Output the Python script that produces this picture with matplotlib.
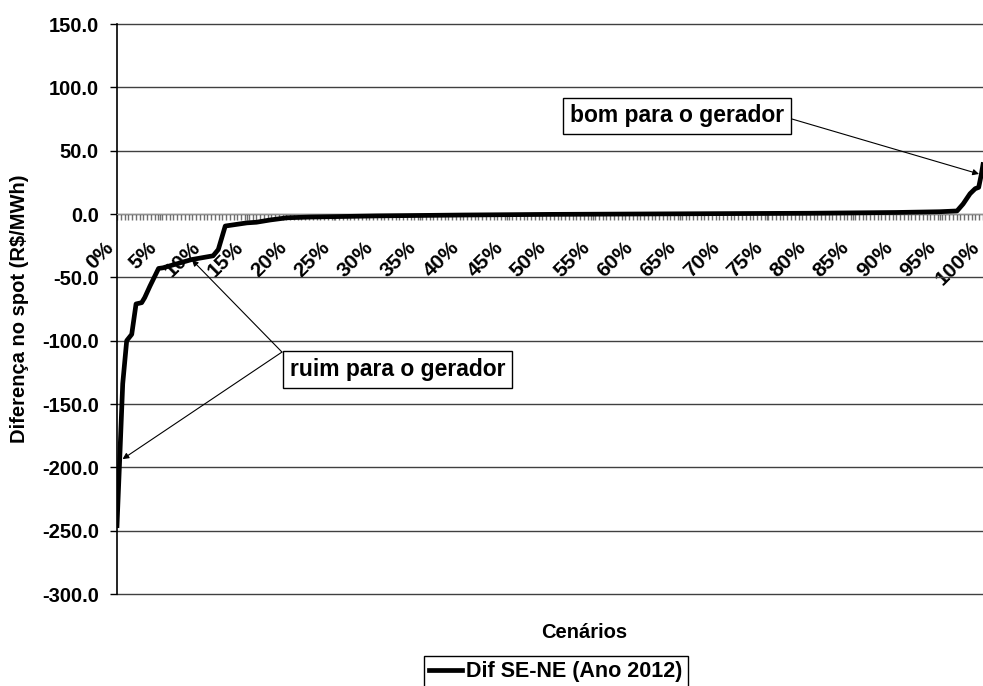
import matplotlib
matplotlib.use("Agg")
import matplotlib.pyplot as plt
from matplotlib.ticker import MultipleLocator, FormatStrFormatter

plt.rcParams['font.family'] = ['Liberation Sans', 'DejaVu Sans']
plt.rcParams['font.weight'] = 'bold'
plt.rcParams['axes.labelweight'] = 'bold'

# cenários ordenados (% do total) e diferença SE-NE no spot (R$/MWh)
cenarios_pct = [0, 0.35, 0.66, 1.12, 1.7, 2.2, 2.85, 3.2, 3.8, 4.8, 5.3, 8.6,
                11.1, 11.7, 12.5, 15.0, 16.1, 17.7, 19.6, 22.3, 30, 40, 50, 60,
                70, 80, 90, 95, 97.0, 97.7, 98.5, 99.1, 99.5, 99.8, 100]
dif_se_ne = [-246, -187, -134, -100, -95, -71, -70, -66, -57, -43, -42.5, -36,
             -33, -28, -9.5, -7, -6.5, -4.7, -3, -2.4, -1.5, -0.8, -0.3, 0,
             0.3, 0.6, 1.2, 1.8, 2.4, 7.9, 16, 20, 21, 31, 39]

rotulos_x = [f"{p}%" for p in range(0, 101, 5)]
n_cenarios = 230

fig = plt.figure(figsize=(9.83, 6.86), dpi=100)
ax = fig.add_axes([117 / 983, 1 - 594 / 686, 866 / 983, 570 / 686])

ax.plot(cenarios_pct, dif_se_ne, color='black', lw=3.4,
        solid_joinstyle='round', label='Dif SE-NE (Ano 2012)', zorder=4)

ax.set_xlim(0, 100)
ax.set_ylim(-300, 150)
ax.yaxis.set_major_locator(MultipleLocator(50))
ax.yaxis.set_major_formatter(FormatStrFormatter('%.1f'))
ax.yaxis.grid(True, color='#404040', lw=1)
ax.set_axisbelow(True)
for linha in ax.get_ygridlines():
    linha.set_clip_on(False)

ax.spines['top'].set_visible(False)
ax.spines['right'].set_visible(False)
ax.spines['left'].set_linewidth(1.2)
ax.spines['bottom'].set_position(('data', 0))
ax.spines['bottom'].set_color('#909090')

ax.set_xticks(range(0, 101, 5), rotulos_x)
ax.xaxis.set_minor_locator(MultipleLocator(100 / n_cenarios))
ax.tick_params(axis='x', which='both', direction='out', length=4,
               width=1, color='#707070', pad=13, labelsize=15)
plt.setp(ax.get_xticklabels(), rotation=45, ha='right')
ax.tick_params(axis='y', length=5, width=1, pad=8, labelsize=14.5)

ax.set_ylabel('Diferença no spot (R$/MWh)', fontsize=14.5, labelpad=9)
ax.set_xlabel('Cenários', fontsize=14.5)
ax.xaxis.set_label_coords(0.539, -0.05)

caixa = dict(boxstyle='square,pad=0.3', fc='white', ec='black', lw=1)
seta = dict(arrowstyle='-|>', color='black', lw=0.8, mutation_scale=9,
            shrinkA=0, shrinkB=0)

ax.text(64.7, 77.4, 'bom para o gerador', fontsize=16.5, ha='center',
        va='center', bbox=caixa, zorder=5)
ax.annotate('', xy=(99.54, 31.6), xytext=(77.94, 75.0), arrowprops=seta, zorder=5)

ax.text(32.4, -122.8, 'ruim para o gerador', fontsize=16.5, ha='center',
        va='center', bbox=caixa, zorder=5)
ax.annotate('', xy=(8.66, -36.3), xytext=(19.05, -109.0), arrowprops=seta, zorder=5)
ax.annotate('', xy=(0.64, -193.5), xytext=(19.05, -109.0), arrowprops=seta, zorder=5)

leg = fig.legend(loc='upper left', bbox_to_anchor=(424 / 983, 1 - 656 / 686),
                 fontsize=15.5, handlelength=1.5, handletextpad=0.2,
                 borderpad=0.25, fancybox=False, framealpha=1,
                 borderaxespad=0)
leg.get_frame().set_edgecolor('black')
leg.get_frame().set_linewidth(1)

fig.savefig('out.png', dpi=100)
